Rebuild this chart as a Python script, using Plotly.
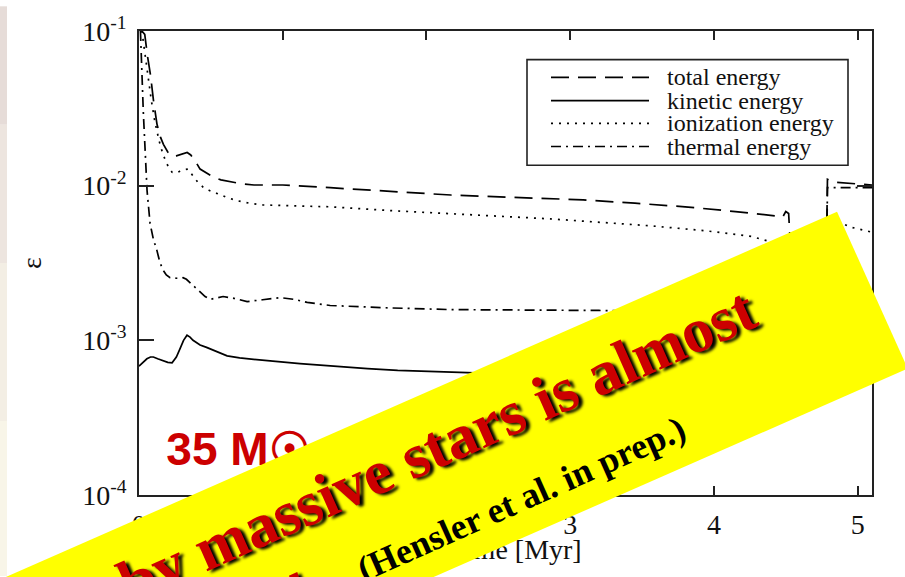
import math
import plotly.graph_objects as go

# ---------------- data ----------------
series_names = ["total energy", "kinetic energy", "ionization energy", "thermal energy"]

t_total = [0.02, 0.04, 0.06, 0.08, 0.10, 0.125, 0.15, 0.17, 0.20, 0.23, 0.26, 0.285, 0.31,
           0.335, 0.36, 0.39, 0.425, 0.47, 0.515, 0.57, 0.635, 0.71, 0.80, 1.00, 1.33, 1.75,
           2.17, 2.60, 3.09, 3.45, 3.80, 4.15, 4.48, 4.50, 4.52, 4.53, 4.56, 4.78, 4.79,
           4.85, 5.10]
e_total = [0.100, 0.095, 0.068, 0.052, 0.036, 0.025, 0.0205, 0.0185, 0.0165, 0.0155, 0.0156,
           0.0159, 0.0162, 0.0164, 0.0158, 0.0145, 0.0128, 0.0120, 0.0114, 0.0109, 0.0106,
           0.0103, 0.0101, 0.0101, 0.0097, 0.0092, 0.0087, 0.0084, 0.0081, 0.0077, 0.0073,
           0.0068, 0.0063, 0.0068, 0.0066, 0.0045, 0.0026, 0.0024, 0.0110, 0.0105, 0.0101]

t_kin = [0.0, 0.02, 0.055, 0.08, 0.10, 0.13, 0.167, 0.20, 0.23, 0.26, 0.285, 0.31, 0.334,
         0.355, 0.376, 0.40, 0.425, 0.47, 0.515, 0.56, 0.613, 0.70, 0.773, 0.95, 1.12, 1.35,
         1.59, 1.80, 2.05, 2.50, 3.20, 4.00, 4.50, 4.78, 4.79, 5.10]
e_kin = [0.00068, 0.00071, 0.00076, 0.00078, 0.00078, 0.00076, 0.00074, 0.00072, 0.000716,
         0.00078, 0.00088, 0.00100, 0.00108, 0.00105, 0.00100, 0.00096, 0.000933, 0.00090,
         0.000867, 0.00083, 0.000794, 0.00077, 0.00076, 0.00073, 0.000706, 0.00068,
         0.000656, 0.00064, 0.000628, 0.00061, 0.00059, 0.00056, 0.00054, 0.00053, 0.0012,
         0.0010]

t_ion = [0.02, 0.04, 0.06, 0.085, 0.11, 0.14, 0.167, 0.20, 0.23, 0.26, 0.285, 0.31, 0.34,
         0.375, 0.41, 0.445, 0.49, 0.543, 0.61, 0.682, 0.77, 0.864, 1.10, 1.33, 1.75, 2.17,
         2.86, 3.56, 3.95, 4.26, 4.37, 4.53, 4.78, 4.79, 4.95, 5.10]
e_ion = [0.100, 0.072, 0.050, 0.036, 0.026, 0.0195, 0.0159, 0.0135, 0.0122, 0.0121, 0.0124,
         0.0127, 0.0128, 0.0115, 0.0105, 0.0098, 0.0093, 0.0089, 0.0084, 0.0080, 0.0077,
         0.0075, 0.0074, 0.0073, 0.0069, 0.0066, 0.0061, 0.0055, 0.0051, 0.0047, 0.0044,
         0.0041, 0.0036, 0.0063, 0.0054, 0.0050]

t_th = [0.01, 0.03, 0.056, 0.077, 0.10, 0.125, 0.145, 0.167, 0.19, 0.216, 0.26, 0.306, 0.33,
        0.355, 0.39, 0.425, 0.46, 0.494, 0.54, 0.585, 0.66, 0.752, 0.86, 0.982, 1.08, 1.17,
        1.33, 1.75, 2.17, 3.20, 4.50, 4.78, 4.79, 5.10]
e_th = [0.100, 0.030, 0.0093, 0.0057, 0.0045, 0.0038, 0.0032, 0.00285, 0.00265, 0.00254,
        0.00252, 0.00254, 0.00248, 0.00236, 0.00218, 0.00204, 0.00192, 0.00184, 0.00187,
        0.00192, 0.00187, 0.00178, 0.00183, 0.00189, 0.00184, 0.00176, 0.00168, 0.00162,
        0.00158, 0.00156, 0.00150, 0.00150, 0.0097, 0.0097]

x_ticks = [0, 1, 2, 3, 4, 5]
y_ticks = [1e-4, 1e-3, 1e-2, 1e-1]
y_ticklabels = ["10<sup>-4</sup>", "10<sup>-3</sup>", "10<sup>-2</sup>", "10<sup>-1</sup>"]

banner_line1 = "by massive stars is almost"
banner_line2 = "negligible!"
banner_ref = "(Hensler et al. in prep.)"
mass_label = "35 M\u2609"
x_title = "time [Myr]"
y_title = "\u03b5"

# ---------------- styles / geometry ----------------
dashes = ["18px,9px", "solid", "2px,6px", "10px,5px,2px,5px"]
FW, FH = 905, 577
L, R, T, B = 139, 872, 25, 495
SERIF = "Liberation Serif"


def px2paper(X, Y):
    return (X - L) / (R - L), (B - Y) / (B - T)


fig = go.Figure()
for name, xs, ys, dsh in zip(series_names, [t_total, t_kin, t_ion, t_th],
                             [e_total, e_kin, e_ion, e_th], dashes):
    fig.add_trace(go.Scatter(x=xs, y=ys, mode="lines", name=name,
                             line=dict(color="black", width=1.7, dash=dsh)))

# mass label (lies below the banner)
fig.add_trace(go.Scatter(x=[0.19], y=[1.85e-4], mode="text", text=[mass_label],
                         textposition="middle right", cliponaxis=False, hoverinfo="skip",
                         textfont=dict(family="Liberation Sans", size=46, color="#cc0000",
                                       weight="bold")))
# helper trace so the secondary x axis (carrying the x title under the banner) is drawn
fig.add_trace(go.Scatter(x=[None], y=[None], xaxis="x2", mode="lines", hoverinfo="skip",
                         showlegend=False))

shapes = []
# left tinted strip of the slide
for (y0, y1, col) in [(0, 120, "#e6dcd8"), (120, 260, "#ede5df"), (260, 420, "#f3eee4"),
                      (420, 577, "#f8f5e8")]:
    a = px2paper(0, y1); b = px2paper(7, y0)
    shapes.append(dict(type="rect", xref="paper", yref="paper", x0=a[0], y0=a[1],
                       x1=b[0], y1=b[1], fillcolor=col, line=dict(width=0), layer="below"))

# legend (drawn manually to get long line samples)
bx0, by0 = px2paper(527, 161)
bx1, by1 = px2paper(848, 54)
shapes.append(dict(type="rect", xref="paper", yref="paper", x0=bx0, y0=by0, x1=bx1, y1=by1,
                   fillcolor="white", line=dict(color="#222", width=1.6)))
rows = [72, 95.5, 118.5, 142]
annotations = []
for name, dsh, ry in zip(series_names, dashes, rows):
    p0 = px2paper(551, ry); p1 = px2paper(649, ry)
    shapes.append(dict(type="line", xref="paper", yref="paper", x0=p0[0], y0=p0[1],
                       x1=p1[0], y1=p1[1], line=dict(color="black", width=1.7, dash=dsh)))
    tx, ty = px2paper(665, ry)
    annotations.append(dict(xref="paper", yref="paper", x=tx, y=ty, text=name,
                            showarrow=False, xanchor="left", yanchor="middle",
                            font=dict(family=SERIF, size=24, color="#111")))

# yellow rotated banner
ang = math.radians(24)
ux, uy = math.cos(ang), -math.sin(ang)     # along banner (screen coords)
nx, ny = math.sin(ang), math.cos(ang)      # across banner
TRp = (837, 208)
wid = 174
lng = 1300
BRp = (TRp[0] + wid * nx, TRp[1] + wid * ny)
TLp = (TRp[0] - lng * ux, TRp[1] - lng * uy)
BLp = (TLp[0] + wid * nx, TLp[1] + wid * ny)
pts = [px2paper(*p) for p in [TLp, TRp, BRp, BLp]]
path = "M " + " L ".join(f"{x:.4f},{y:.4f}" for x, y in pts) + " Z"
shapes.append(dict(type="path", xref="paper", yref="paper", path=path,
                   fillcolor="#ffff00", line=dict(width=0), layer="above"))

red_font = dict(family=SERIF, size=63, color="#cc0000", weight="bold",
                shadow="3px 3px 3px #000")
c1 = px2paper(437, 445)
annotations.append(dict(xref="paper", yref="paper", x=c1[0], y=c1[1], text=banner_line1,
                        showarrow=False, textangle=-24, xanchor="center", yanchor="middle",
                        font=red_font))
c2 = px2paper(183, 647)
annotations.append(dict(xref="paper", yref="paper", x=c2[0], y=c2[1], text=banner_line2,
                        showarrow=False, textangle=-24, xanchor="center", yanchor="middle",
                        font=red_font))
c3 = px2paper(521, 499)
annotations.append(dict(xref="paper", yref="paper", x=c3[0], y=c3[1], text=banner_ref,
                        showarrow=False, textangle=-24, xanchor="center", yanchor="middle",
                        font=dict(family=SERIF, size=36, color="#000", weight="bold")))

tick_font = dict(family=SERIF, size=28, color="#111")
axis_common = dict(showline=True, linecolor="#222", linewidth=1.6, mirror="ticks",
                   ticks="inside", tickcolor="#222", tickwidth=1.6, showgrid=False,
                   zeroline=False, tickfont=tick_font)

fig.update_layout(
    width=FW, height=FH, autosize=False,
    margin=dict(l=L, r=FW - R, t=T, b=FH - B),
    paper_bgcolor="white", plot_bgcolor="white", showlegend=False,
    font=dict(family=SERIF, color="#111"),
    xaxis=dict(range=[0, 5.1], tickvals=x_ticks, ticklen=9, ticklabelstandoff=4,
               **axis_common),
    xaxis2=dict(overlaying="x", anchor="y", side="bottom", range=[0, 5.1],
                tickvals=[2.65], ticktext=[x_title], ticks="", showline=False,
                showgrid=False, zeroline=False, ticklabelstandoff=35,
                tickfont=dict(family=SERIF, size=28, color="#111")),
    yaxis=dict(type="log", range=[-4, -1], tickvals=y_ticks, ticktext=y_ticklabels,
               ticklen=15, ticklabelstandoff=5,
               title=dict(text=y_title, font=dict(family=SERIF, size=28, color="#111"),
                          standoff=32),
               **axis_common),
    shapes=shapes, annotations=annotations,
)

fig.write_html("out.html")
